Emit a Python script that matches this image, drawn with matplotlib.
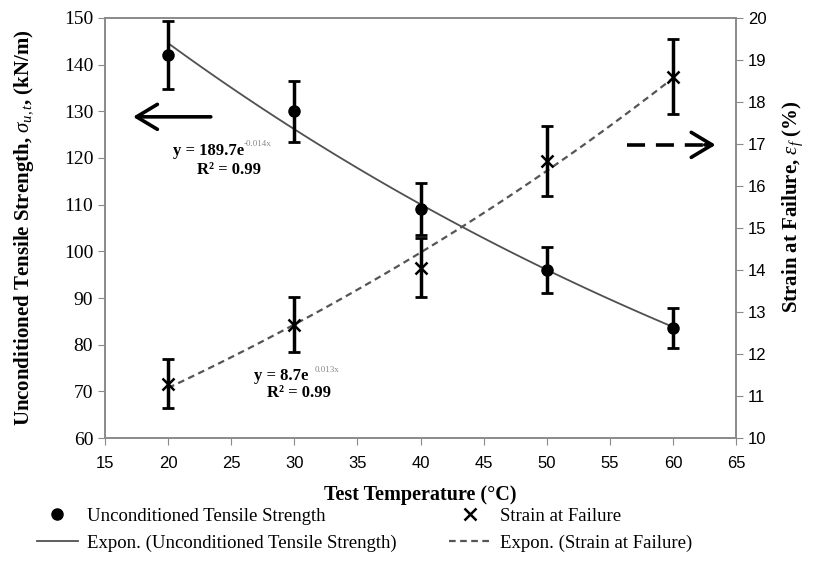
import numpy as np
import matplotlib
matplotlib.use("Agg")
import matplotlib.pyplot as plt

plt.rcParams["mathtext.fontset"] = "custom"
plt.rcParams["mathtext.rm"] = "Liberation Serif"
plt.rcParams["mathtext.it"] = "Liberation Serif:italic"
plt.rcParams["mathtext.bf"] = "Liberation Serif:bold"

# data
temps = [20, 30, 40, 50, 60]
strength = [142.0, 130.0, 109.1, 96.0, 83.6]
strength_err = [7.3, 6.5, 5.5, 4.9, 4.2]
strain = [11.3, 12.7, 14.05, 16.6, 18.6]
strain_err = [0.58, 0.65, 0.7, 0.83, 0.9]

serif = "Liberation Serif"
sans = "Liberation Sans"

fig = plt.figure(figsize=(8.27, 5.75), dpi=100)
ax = fig.add_axes([0.127, 0.238, 0.763, 0.731])
ax2 = ax.twinx()

# exponential trend lines fitted to the points
xs = np.linspace(20, 60, 100)
b1, a1 = np.polyfit(temps, np.log(strength), 1)
b2, a2 = np.polyfit(temps, np.log(strain), 1)
l1, = ax.plot(xs, np.exp(a1) * np.exp(b1 * xs), color="#505050", lw=1.3,
              label="Expon. (Unconditioned Tensile Strength)")
l2, = ax2.plot(xs, np.exp(a2) * np.exp(b2 * xs), color="#555555", lw=1.6,
               ls=(0, (3, 2)), label="Expon. (Strain at Failure)")

# points with error bars
ax.errorbar(temps, strength, yerr=strength_err, fmt="none", ecolor="black",
            elinewidth=2.5, capsize=4, capthick=2)
p1, = ax.plot(temps, strength, "o", color="black", ms=8,
              label="Unconditioned Tensile Strength")
ax2.errorbar(temps, strain, yerr=strain_err, fmt="none", ecolor="black",
             elinewidth=2.5, capsize=4, capthick=2)
p2, = ax2.plot(temps, strain, "x", color="black", ms=9, mew=1.8,
               label="Strain at Failure")

ax.set_xlim(15, 65)
ax.set_ylim(60, 150)
ax2.set_ylim(10, 20)
ax.set_xticks(range(15, 70, 5))
ax.set_yticks(range(60, 160, 10))
ax2.set_yticks(range(10, 21, 1))

for a in (ax, ax2):
    for s in a.spines.values():
        s.set_color("#8a8a8a")
        s.set_linewidth(1.2)
ax.tick_params(axis="x", colors="#8a8a8a", labelcolor="black", length=5, pad=8)
ax.tick_params(axis="y", colors="#8a8a8a", labelcolor="black", length=5)
ax2.tick_params(axis="y", colors="#8a8a8a", labelcolor="black", length=5)
for t in ax.get_yticklabels():
    t.set_fontfamily(serif)
    t.set_fontsize(14)
for t in ax.get_xticklabels():
    t.set_fontfamily(sans)
    t.set_fontsize(12)
for t in ax2.get_yticklabels():
    t.set_fontfamily(sans)
    t.set_fontsize(12)

ax.set_xlabel("Test Temperature (°C)", fontfamily=serif, fontweight="bold",
              fontsize=14.5, labelpad=10)
ax.set_ylabel(r"Unconditioned Tensile Strength, $\sigma_{u,t}$, (kN/m)",
              fontfamily=serif, fontweight="bold", fontsize=15, labelpad=20)
ax2.set_ylabel(r"Strain at Failure, $\epsilon_f$ (%)", fontfamily=serif,
               fontweight="bold", fontsize=15)
ax2.yaxis.set_label_coords(1.071, 0.55)

# trend line equations
ax.text(20.4, 121.5, "y = 189.7e", fontfamily=serif, fontweight="bold",
        fontsize=12, va="center")
ax.text(25.95, 122.9, "-0.014x", fontfamily=serif, fontsize=6.5,
        color="#888888", va="center")
ax.text(24.8, 117.4, "R² = 0.99", fontfamily=serif, fontweight="bold",
        fontsize=12, va="center", ha="center")
ax.text(26.8, 73.4, "y = 8.7e", fontfamily=serif, fontweight="bold",
        fontsize=12, va="center")
ax.text(31.6, 74.6, "0.013x", fontfamily=serif, fontsize=6.5,
        color="#888888", va="center")
ax.text(30.4, 69.7, "R² = 0.99", fontfamily=serif, fontweight="bold",
        fontsize=12, va="center", ha="center")

# arrows pointing to each axis
ax.annotate("", xy=(17.0, 128.8), xytext=(23.6, 128.8),
            arrowprops=dict(arrowstyle="->,head_length=0.5,head_width=0.3",
                            color="black", lw=2.6, mutation_scale=30))
ax.plot([56.4, 63.0], [122.8, 122.8], color="black", lw=2.6,
        ls=(0, (5, 3)), solid_capstyle="butt")
ax.annotate("", xy=(63.6, 122.8), xytext=(62.3, 122.8),
            arrowprops=dict(arrowstyle="->,head_length=0.5,head_width=0.3",
                            color="black", lw=2.6, mutation_scale=30))

fig.legend(handles=[p1, l1, p2, l2], loc="upper left",
           bbox_to_anchor=(0.024, 0.146), ncol=2, frameon=False,
           prop={"family": serif, "size": 13.5}, columnspacing=2.8,
           handlelength=2.2, handletextpad=0.5, labelspacing=0.5)

fig.savefig("out.png", dpi=100)
